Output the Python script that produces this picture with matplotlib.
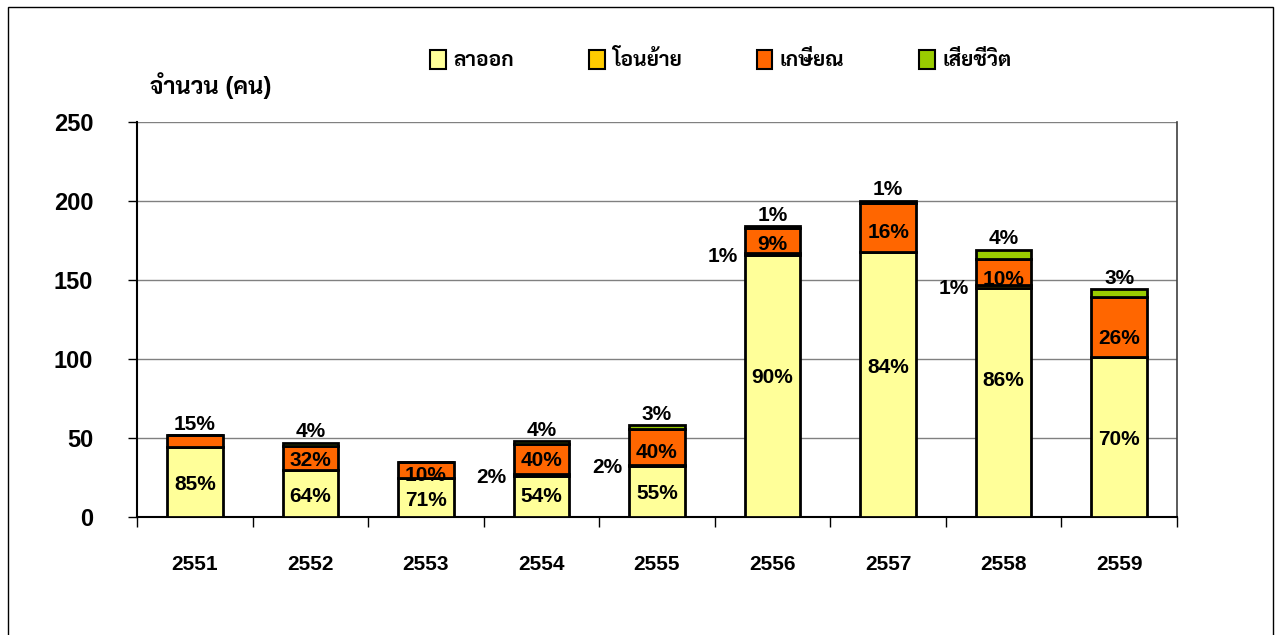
import matplotlib
matplotlib.use("Agg")
import matplotlib.pyplot as plt
import numpy as np
from matplotlib.patches import Rectangle

plt.rcParams['font.family'] = ['Liberation Sans', 'Sarabun', 'Bai Jamjuree']
plt.rcParams['font.weight'] = 'bold'

years = ['2551', '2552', '2553', '2554', '2555', '2556', '2557', '2558', '2559']
resigned = [44, 30, 25, 26, 32, 166, 168, 145, 101]
transferred = [0, 0, 0, 1, 1, 1, 0, 2, 0]
retired = [8, 15, 10, 19, 23, 16, 31, 16, 38]
died = [0, 2, 0, 2, 2, 1, 1, 6, 5]

resigned_lbl = ['85%', '64%', '71%', '54%', '55%', '90%', '84%', '86%', '70%']
transferred_lbl = ['', '', '', '2%', '2%', '1%', '', '1%', '']
retired_lbl = ['15%', '32%', '10%', '40%', '40%', '9%', '16%', '10%', '26%']
died_lbl = ['', '4%', '', '4%', '3%', '1%', '1%', '4%', '3%']

series_names = ['ลาออก', 'โอนย้าย', 'เกษียณ', 'เสียชีวิต']
colors = ['#FFFF99', '#FFCC00', '#FF6600', '#99CC00']

# vertical nudges (points) for the labels inside the bars
resigned_dy = [-1.5, -2, -2, 0, -1, 6, 12, 16, -2]
retired_dy = [12, -2, -4, -1, -4, -3, -4, -5, -8]

fig = plt.figure(figsize=(12.76, 6.35), dpi=100)
ax = fig.add_axes([137 / 1276, 1 - 517 / 635, 1040 / 1276, 395 / 635])

x = np.arange(len(years))
w = 0.48
data = [resigned, transferred, retired, died]
bottom = np.zeros(len(years))
starts = []
for vals, col, name in zip(data, colors, series_names):
    ax.bar(x, vals, w, bottom=bottom, color=col, edgecolor='black',
           linewidth=2, label=name, zorder=3)
    starts.append(bottom.copy())
    bottom += np.array(vals)
totals = bottom

lab_kw = dict(fontsize=15, fontweight='bold', zorder=5,
              textcoords='offset points', va='center')
for i in range(len(years)):
    ax.annotate(resigned_lbl[i], (x[i], starts[0][i] + resigned[i] / 2),
                xytext=(0, resigned_dy[i]), ha='center', **lab_kw)
    if transferred_lbl[i]:
        yc = starts[1][i] + transferred[i] / 2
        ax.annotate(transferred_lbl[i], (x[i] - w / 2, yc), xytext=(-5, -1.5),
                    ha='right', **lab_kw)
    ax.annotate(retired_lbl[i], (x[i], starts[2][i] + retired[i] / 2),
                xytext=(0, retired_dy[i]), ha='center', **lab_kw)
    if died_lbl[i]:
        ax.annotate(died_lbl[i], (x[i], totals[i]), xytext=(0, 8),
                    ha='center', **lab_kw)

ax.set_xlim(-0.5, len(years) - 0.5)
ax.set_ylim(0, 250)
ax.set_yticks(np.arange(0, 251, 50))
ax.yaxis.grid(True, color='#808080', linewidth=1, zorder=0)
ax.tick_params(axis='y', length=6.5, width=1, pad=25, labelsize=17)
ax.set_xticks(x)
ax.set_xticklabels(years)
ax.set_xticks(np.arange(-0.5, len(years)), minor=True)
ax.tick_params(axis='x', which='major', length=0, pad=27, labelsize=15)
ax.tick_params(axis='x', which='minor', length=7, width=1)
for lbl in ax.get_xticklabels() + ax.get_yticklabels():
    lbl.set_fontweight('bold')

ax.spines['top'].set_visible(False)
ax.spines['left'].set_linewidth(1.5)
ax.spines['bottom'].set_linewidth(1.5)
ax.spines['right'].set_color('#404040')
ax.spines['right'].set_linewidth(1.2)

fig.text(150 / 1276, 1 - 86 / 635, 'จำนวน (คน)', fontsize=17, fontweight='bold',
         va='center', ha='left')

fig.legend(loc='center left', bbox_to_anchor=(422 / 1276, 1 - 60 / 635), ncol=4,
           frameon=False, fontsize=15, handlelength=0.75, handleheight=1.0,
           handletextpad=0.35, columnspacing=3.6, borderaxespad=0)
for h in fig.legends[0].legend_handles:
    h.set_linewidth(1.5)

fig.patches.append(Rectangle((8 / 1276, -0.05), 1265 / 1276, 1.05 - 7 / 635,
                             transform=fig.transFigure, fill=False,
                             edgecolor='black', linewidth=1))

fig.savefig('out.png', dpi=100)
